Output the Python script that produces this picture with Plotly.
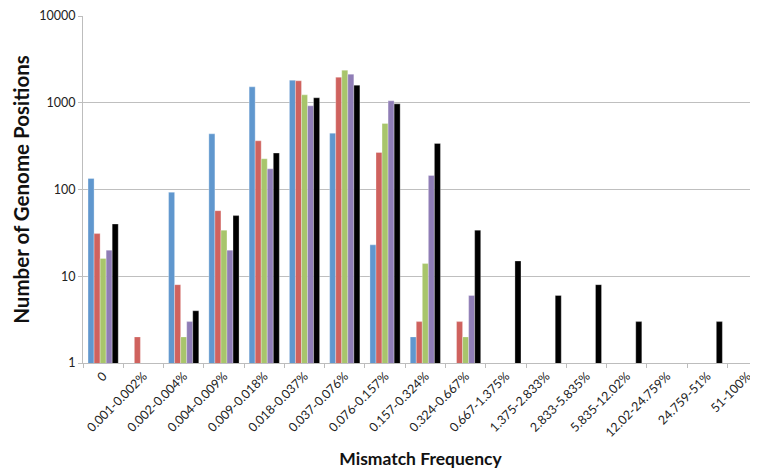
import plotly.graph_objects as go

categories = ["0", "0.001-0.002%", "0.002-0.004%", "0.004-0.009%", "0.009-0.018%",
              "0.018-0.037%", "0.037-0.076%", "0.076-0.157%", "0.157-0.324%",
              "0.324-0.667%", "0.667-1.375%", "1.375-2.833%", "2.833-5.835%",
              "5.835-12.02%", "12.02-24.759%", "24.759-51%", "51-100%"]

series_blue = [134, None, 93, 438, 1525, 1820, 446, 23, 2, None, None, None, None, None, None, None, None]
series_red = [31, 2, 8, 57, 364, 1790, 1970, 267, 3, 3, None, None, None, None, None, None, None]
series_green = [16, None, 2, 34, 226, 1233, 2375, 577, 14, 2, None, None, None, None, None, None, None]
series_purple = [20, None, 3, 20, 173, 921, 2135, 1052, 145, 6, None, None, None, None, None, None, None]
series_black = [40, None, 4, 50, 263, 1140, 1595, 971, 340, 34, 15, 6, 8, 3, None, 3, 4]

series = [
    ("S1", series_blue, "#6097CE"),
    ("S2", series_red, "#CF625E"),
    ("S3", series_green, "#A8C56B"),
    ("S4", series_purple, "#8F7DB6"),
    ("S5", series_black, "#000000"),
]

fig = go.Figure()
for name, vals, col in series:
    fig.add_trace(go.Bar(
        x=categories, y=vals, name=name,
        marker=dict(color=col, line=dict(color="rgba(255,255,255,0.6)", width=0.5)),
    ))

fig.update_layout(
    width=750, height=462,
    margin=dict(l=75, r=0, t=8, b=107),
    paper_bgcolor="white", plot_bgcolor="white",
    barmode="group", bargap=0.25, bargroupgap=0,
    showlegend=False,
    font=dict(family="Lato", color="#222222"),
)
fig.update_xaxes(
    type="category",
    range=[-0.5, 16.26],
    tickangle=-45,
    tickfont=dict(size=12.5, color="#222222"),
    showline=True, linecolor="#BDBDBD", linewidth=1,
    ticks="outside", tickson="boundaries", ticklen=4, tickcolor="#BDBDBD",
    showgrid=False,
    title=dict(text="<b>Mismatch Frequency</b>", font=dict(size=17.5, color="#111111"), standoff=13),
    automargin=False,
)
fig.update_yaxes(
    type="log",
    range=[0, 4],
    tickvals=[1, 10, 100, 1000, 10000],
    ticktext=["1", "10", "100", "1000", "10000"],
    tickfont=dict(size=12.5, color="#222222"),
    showline=True, linecolor="#BDBDBD", linewidth=1,
    ticks="outside", ticklen=4, tickcolor="#BDBDBD",
    showgrid=True, gridcolor="#BFBFBF", gridwidth=1,
    title=dict(text="<b>Number of Genome Positions</b>", font=dict(size=20.5, color="#111111"), standoff=4),
    automargin=False,
)

fig.write_html("out.html")
